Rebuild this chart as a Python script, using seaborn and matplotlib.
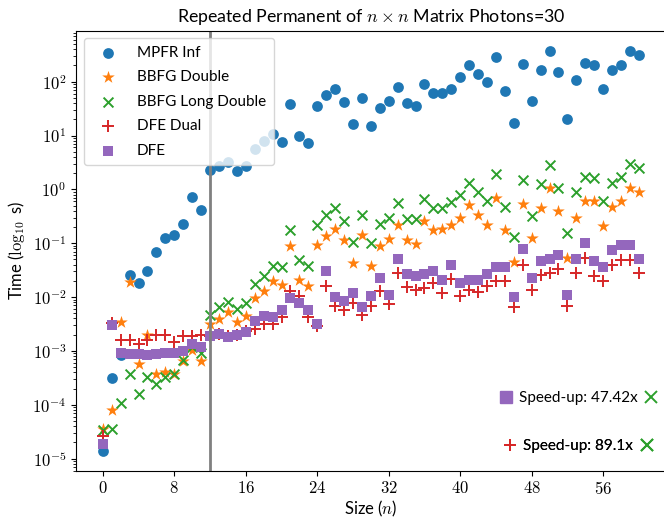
import numpy as np
import pandas as pd
import seaborn as sns
import matplotlib
matplotlib.use("Agg")
from matplotlib import pyplot as plt
from matplotlib.lines import Line2D
from matplotlib.ticker import FuncFormatter, MultipleLocator, LogLocator, NullFormatter

# values (time in seconds, log scale)
sizes = list(range(61))
mpfr_inf = [1.4e-5, 3.1e-4, 8.3e-4, 0.026, 0.018, 0.030, 0.068, 0.126, 0.139, 0.23,
            0.71, 0.42, 2.26, 2.77, 3.2, 2.2, 2.7, 5.6, 7.8, 10.7,
            7.5, 39, 9.7, 7.3, 36, 56, 73, 42, 16.6, 50,
            14.8, 33, 44, 78, 40, 36, 92, 62, 62, 73,
            122, 207, 139, 99, 287, 68, 17.1, 213, 44, 167,
            376, 149, 20.6, 109, 222, 201, 74, 165, 207, 376, 317]
bbfg_double = [3.5e-5, 8.0e-5, 3.4e-3, 0.0188, 5.6e-4, 2.0e-3, 3.7e-4, 4.0e-4, 3.65e-4, 6.5e-4,
               1.06e-3, 6.5e-4, 3.2e-3, 3.9e-3, 5.2e-3, 3.4e-3, 4.4e-3, 9.7e-3, 0.0132, 0.0196,
               0.0165, 0.087, 0.021, 0.0158, 0.091, 0.134, 0.186, 0.113, 0.043, 0.14,
               0.038, 0.087, 0.12, 0.221, 0.113, 0.097, 0.254, 0.178, 0.18, 0.22,
               0.294, 0.52, 0.34, 0.22, 0.69, 0.178, 0.044, 0.53, 0.125, 0.45,
               1.06, 0.39, 0.053, 0.30, 0.61, 0.60, 0.205, 0.48, 0.60, 1.06, 0.89]
bbfg_long_double = [3.4e-5, 3.6e-5, 1.06e-4, 3.7e-4, 1.6e-4, 3.3e-4, 2.4e-4, 3.3e-4, 3.65e-4, 6.8e-4,
                    1.2e-3, 9.0e-4, 4.7e-3, 6.6e-3, 8.1e-3, 5.9e-3, 7.6e-3, 0.0178, 0.0243, 0.037,
                    0.036, 0.178, 0.0495, 0.038, 0.214, 0.34, 0.45, 0.254, 0.105, 0.34,
                    0.10, 0.23, 0.30, 0.557, 0.285, 0.28, 0.66, 0.45, 0.46, 0.57,
                    0.79, 1.34, 0.91, 0.61, 1.92, 0.48, 0.128, 1.51, 0.325, 1.25,
                    2.86, 1.08, 0.155, 0.875, 1.69, 1.65, 0.61, 1.34, 1.69, 2.99, 2.48]
dfe_dual = [2.6e-5, 3.3e-3, 1.6e-3, 1.6e-3, 1.33e-3, 1.6e-3, 1.95e-3, 1.95e-3, 1.47e-3, 1.87e-3,
            1.9e-3, 1.95e-3, 1.9e-3, 2.1e-3, 1.9e-3, 2.0e-3, 2.3e-3, 2.6e-3, 3.1e-3, 3.2e-3,
            4.3e-3, 0.0132, 0.0106, 4.3e-3, 2.9e-3, 0.0163, 6.9e-3, 5.7e-3, 7.6e-3, 4.7e-3,
            6.8e-3, 0.0129, 7.5e-3, 0.028, 0.0152, 0.0138, 0.0148, 0.0183, 0.0119, 0.0217,
            0.0106, 0.0135, 0.0123, 0.0158, 0.0196, 0.0196, 6.6e-3, 0.040, 0.0135, 0.026,
            0.028, 0.033, 6.8e-3, 0.028, 0.053, 0.025, 0.0196, 0.040, 0.0495, 0.0495, 0.028]
dfe = [1.84e-5, 3.0e-3, 9.2e-4, 8.6e-4, 8.9e-4, 8.3e-4, 8.6e-4, 9.2e-4, 9.2e-4, 1.0e-3,
       1.37e-3, 1.19e-3, 1.87e-3, 2.1e-3, 1.8e-3, 2.0e-3, 2.2e-3, 3.55e-3, 4.5e-3, 4.3e-3,
       5.8e-3, 9.7e-3, 7.6e-3, 5.8e-3, 3.2e-3, 0.030, 9.9e-3, 8.6e-3, 0.0119, 6.5e-3,
       0.0106, 0.0227, 0.011, 0.0516, 0.0269, 0.0243, 0.0269, 0.031, 0.0205, 0.0388,
       0.0183, 0.021, 0.0205, 0.027, 0.0356, 0.0356, 0.0101, 0.078, 0.0227, 0.046,
       0.0516, 0.061, 0.011, 0.0516, 0.101, 0.046, 0.0356, 0.076, 0.091, 0.091, 0.0516]
series_names = ["MPFR Inf", "BBFG Double", "BBFG Long Double", "DFE Dual", "DFE"]
speedups = ["47.42", "89.1"]
decades = list(range(-5, 3))
cutoff = 12

df = pd.DataFrame({"n": sizes, "MPFR Inf": mpfr_inf, "BBFG Double": bbfg_double,
                   "BBFG Long Double": bbfg_long_double, "DFE Dual": dfe_dual, "DFE": dfe})
df = df.melt(id_vars="n", var_name="method", value_name="time")

sns.set_style("ticks")
plt.rcParams["font.family"] = ["Lato", "DejaVu Sans"]
plt.rcParams["mathtext.fontset"] = "cm"
plt.rcParams["text.color"] = "black"
plt.rcParams["axes.labelcolor"] = "black"
plt.rcParams["axes.edgecolor"] = "black"
plt.rcParams["xtick.color"] = "black"
plt.rcParams["ytick.color"] = "black"

palette = sns.color_palette("tab10")
styles = {
    "MPFR Inf": dict(marker="o", s=60, color=palette[0], linewidth=0),
    "BBFG Double": dict(marker="*", s=90, color=palette[1], linewidth=0),
    "BBFG Long Double": dict(marker="x", s=50, color=palette[2], linewidth=1.4),
    "DFE Dual": dict(marker="+", s=70, color=palette[3], linewidth=1.4),
    "DFE": dict(marker="s", s=60, color=palette[4], linewidth=0),
}

fig = plt.figure(figsize=(6.64, 5.2), dpi=100)
ax = fig.add_axes([76 / 664, 49.3 / 520, 589.7 / 664, 440 / 520])

for name in series_names:
    sub = df[df["method"] == name]
    sns.scatterplot(data=sub, x="n", y="time", label=name, ax=ax, **styles[name])

ax.axvline(cutoff, color="grey", linewidth=2)
ax.set_yscale("log")

ax.xaxis.set_major_locator(MultipleLocator(8))
ax.xaxis.set_major_formatter(FuncFormatter(lambda v, _: rf"${v:g}$"))
ax.set_yticks([10.0 ** d for d in decades])
ax.set_yticklabels([rf"$10^{{{d}}}$" for d in decades])
ax.yaxis.set_minor_locator(LogLocator(base=10, subs=np.arange(2, 10), numticks=20))
ax.yaxis.set_minor_formatter(NullFormatter())
ax.tick_params(axis="both", which="major", length=3.5, labelsize=12)
ax.tick_params(axis="y", which="minor", length=2)

ax.set_xlabel("Size ($n$)", fontsize=12, labelpad=1)
ax.set_ylabel(r"Time ($\log_{10}$ s)", fontsize=12)
ax.set_title(r"Repeated Permanent of $n \times n$ Matrix Photons=30", fontsize=12.8)

main_leg = ax.legend(loc="upper left", fontsize=11, labelspacing=0.68,
                     handlelength=2.2, borderpad=0.5)
ax.add_artist(main_leg)

# speed-up notes at the lower right
for speedup, name, ypos in zip(speedups, ["DFE", "DFE Dual"], [0.165, 0.056]):
    st = styles[name]
    lw = st["linewidth"] if st["linewidth"] else 1
    h1 = Line2D([], [], ls="none", marker=st["marker"], color=st["color"],
                markersize=9, markeredgewidth=lw)
    h2 = Line2D([], [], ls="none", marker="x", color=palette[2],
                markersize=8, markeredgewidth=1.4)
    leg = ax.legend([h1, h2], [f"Speed-up: {speedup}x", ""], ncol=2, frameon=False,
                    loc="center", bbox_to_anchor=(0.857, ypos), fontsize=11,
                    handlelength=1.0, handletextpad=0.35, columnspacing=0.4)
    ax.add_artist(leg)

fig.savefig("out.png", dpi=100)
